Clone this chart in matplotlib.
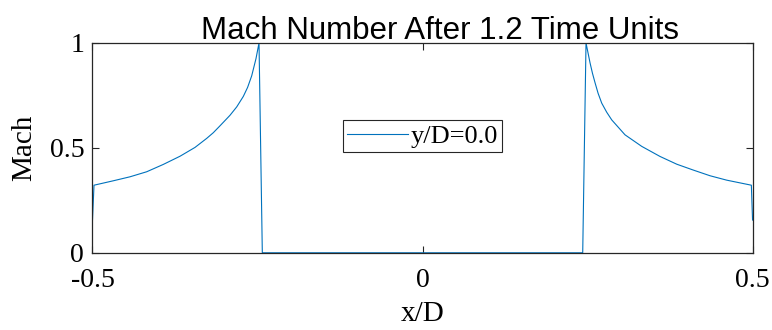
import numpy as np
import matplotlib.pyplot as plt

# Mach number along y/D = 0.0 after 1.2 time units
x_d = [-0.5, -0.4977, -0.4685, -0.4432, -0.4179, -0.3927, -0.3674, -0.3447,
       -0.327, -0.317, -0.3068, -0.2917, -0.2815, -0.2715, -0.265, -0.2588,
       -0.2523, -0.2477, -0.2427,
       0.2427, 0.2477, 0.2538, 0.2575, 0.2614, 0.266, 0.2715, 0.279, 0.2867,
       0.3068, 0.3321, 0.3598, 0.3852, 0.4103, 0.4356, 0.4609, 0.4982, 0.5]
mach = [0.156, 0.322, 0.343, 0.362, 0.386, 0.421, 0.460, 0.502,
        0.545, 0.572, 0.605, 0.655, 0.695, 0.745, 0.788, 0.843,
        0.925, 1.0, 0.0,
        0.0, 1.0, 0.905, 0.855, 0.810, 0.760, 0.713, 0.670, 0.633,
        0.562, 0.507, 0.459, 0.422, 0.394, 0.367, 0.346, 0.322, 0.156]

xticks = [-0.5, 0, 0.5]
yticks = [0, 0.5, 1]

serif = ['Liberation Serif', 'DejaVu Serif']

fig = plt.figure(figsize=(7.72, 3.30), dpi=100)
ax = fig.add_axes([0.1198, 0.234, 0.855, 0.636])

ax.plot(x_d, mach, color='#0072BD', lw=0.8, label='y/D=0.0')

ax.set_xlim(-0.5, 0.5)
ax.set_ylim(0, 1)
ax.set_xticks(xticks)
ax.set_xticklabels(['-0.5', '0', '0.5'])
ax.set_yticks(yticks)
ax.set_yticklabels(['0', '0.5', '1'])
ax.tick_params(direction='in', length=5, width=0.8, top=True, right=True,
               labelsize=20, colors='#262626')
ax.tick_params(axis='x', pad=11)
ax.tick_params(axis='y', pad=6)
for lbl in ax.get_xticklabels() + ax.get_yticklabels():
    lbl.set_family(serif)
    lbl.set_color('black')
for s in ax.spines.values():
    s.set_linewidth(0.9)
    s.set_color('#262626')

ax.set_xlabel('x/D', family=serif, fontsize=21, labelpad=6)
ax.set_ylabel('Mach', family=serif, fontsize=21, labelpad=9)
ax.set_title('Mach Number After 1.2 Time Units', family=['Liberation Sans', 'DejaVu Sans'],
             fontsize=22.5, pad=3, x=0.527)

leg = ax.legend(loc='center', bbox_to_anchor=(0.5, 0.556), prop={'family': serif, 'size': 19},
                fancybox=False, framealpha=1, edgecolor='#262626', handlelength=2.3,
                borderpad=0.15, handletextpad=0.1, borderaxespad=0)
leg.get_frame().set_linewidth(0.8)

fig.savefig('out.png', dpi=100)
